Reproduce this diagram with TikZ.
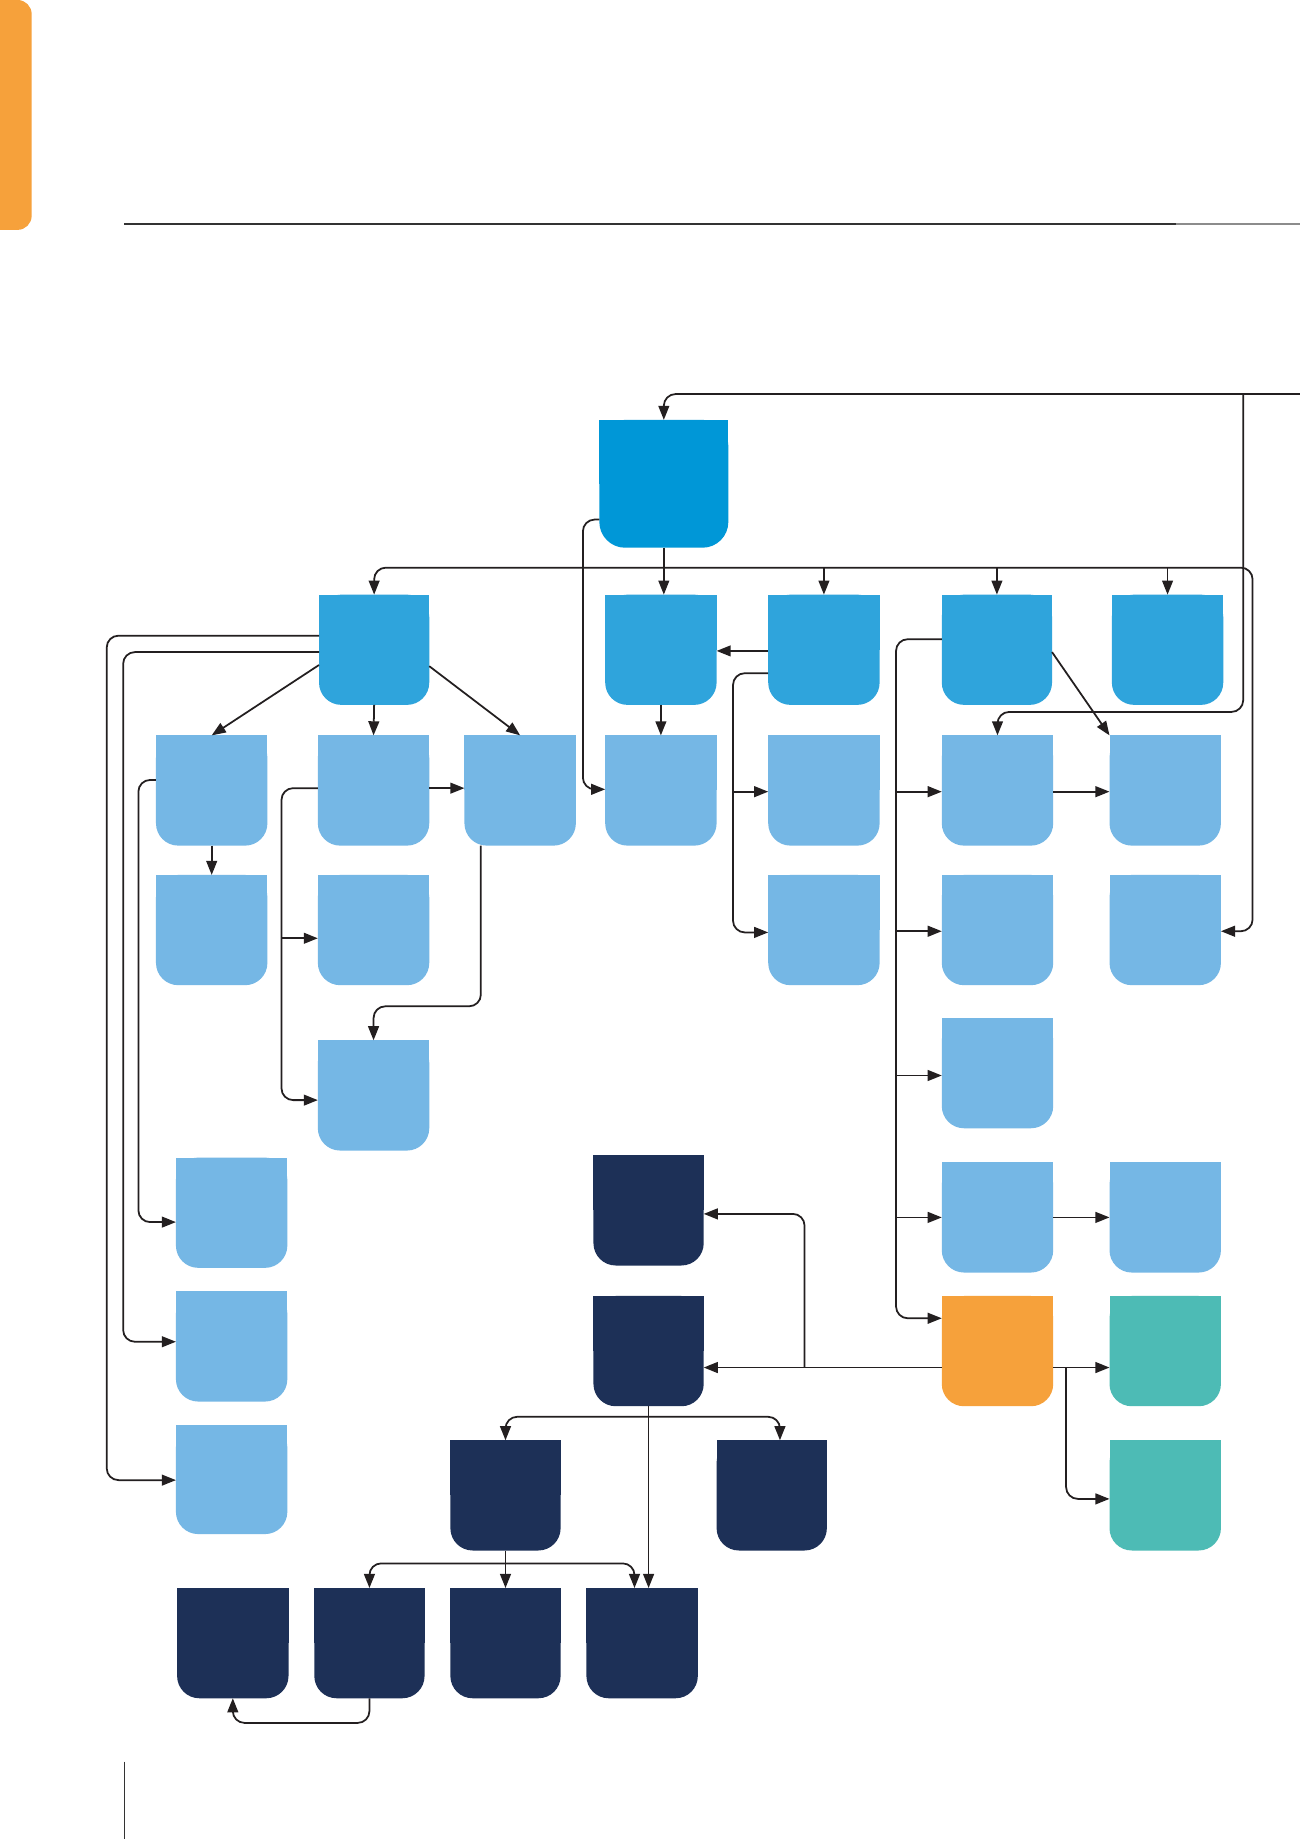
\documentclass[tikz,border=0pt]{standalone}
\usetikzlibrary{arrows.meta,calc}
\definecolor{cT}{HTML}{0097D7}
\definecolor{cM}{HTML}{2FA4DC}
\definecolor{cL}{HTML}{75B7E5}
\definecolor{cN}{HTML}{1D3057}
\definecolor{cO}{HTML}{F6A13B}
\definecolor{cG}{HTML}{4DBBB5}
\definecolor{lc}{HTML}{231F20}
\newcommand\bx[7]{%
  \fill[#6,rounded corners=#7] (#2,#3) rectangle (#4,#5);
  \fill[#6] (#2,#3) rectangle (#4,{(#3+#5)/2});
  \pgfmathsetmacro\bxw{(#4-#2)*0.5}%
  \pgfmathsetmacro\bxh{(#5-#3)*0.5}%
  \node[inner sep=0pt,outer sep=0pt,minimum width=\bxw pt,minimum height=\bxh pt] (#1) at ({(#2+#4)/2},{(#3+#5)/2}) {};
}
\begin{document}
\begin{tikzpicture}[x=0.5pt,y=-0.5pt,
  >={Triangle[length=6pt,width=4.6pt]},
  conn/.style={draw=lc,line width=0.75pt,rounded corners=5pt}]
\useasboundingbox (0,0) rectangle (1108,1568);
\fill[white] (0,0) rectangle (1108,1568);
% page decorations
\fill[cO,rounded corners=6pt] (-40,0) rectangle (27,196);
\draw[line width=1pt,color=black!80] (106,191) -- (1003,191);
\draw[line width=1pt,color=black!45] (1003,191) -- (1108,191);
\draw[line width=0.5pt,color=black!80] (106,1502) -- (106,1568);
% boxes
\bx{T}{511}{358}{621}{467}{cT}{11pt}
\bx{A}{272}{507}{366}{601}{cM}{9.5pt}
\bx{B}{516}{507}{611}{601}{cM}{9.5pt}
\bx{C}{655}{507}{750}{601}{cM}{9.5pt}
\bx{D}{803}{507}{897}{601}{cM}{9.5pt}
\bx{E}{948}{507}{1043}{601}{cM}{9.5pt}
\bx{A1}{133}{627}{228}{721}{cL}{9.5pt}
\bx{A2}{271}{627}{366}{721}{cL}{9.5pt}
\bx{A3}{396}{627}{491}{721}{cL}{9.5pt}
\bx{B1}{516}{627}{611}{721}{cL}{9.5pt}
\bx{C1}{655}{627}{750}{721}{cL}{9.5pt}
\bx{D1}{803}{627}{898}{721}{cL}{9.5pt}
\bx{E1}{946}{627}{1041}{721}{cL}{9.5pt}
\bx{F1}{133}{746}{228}{840}{cL}{9.5pt}
\bx{F2}{271}{746}{366}{840}{cL}{9.5pt}
\bx{C2}{655}{746}{750}{840}{cL}{9.5pt}
\bx{D2}{803}{746}{898}{840}{cL}{9.5pt}
\bx{E2}{946}{746}{1041}{840}{cL}{9.5pt}
\bx{A4}{271}{887}{366}{981}{cL}{9.5pt}
\bx{D3}{803}{868}{898}{962}{cL}{9.5pt}
\bx{L1}{150}{987}{245}{1081}{cL}{9.5pt}
\bx{N1}{506}{985}{600}{1079}{cN}{9.5pt}
\bx{D4}{803}{991}{898}{1085}{cL}{9.5pt}
\bx{E4}{946}{991}{1041}{1085}{cL}{9.5pt}
\bx{L2}{150}{1101}{245}{1195}{cL}{9.5pt}
\bx{N2}{506}{1105}{600}{1199}{cN}{9.5pt}
\bx{O}{803}{1105}{898}{1199}{cO}{9.5pt}
\bx{G1}{946}{1105}{1041}{1199}{cG}{9.5pt}
\bx{L3}{150}{1215}{245}{1308}{cL}{9.5pt}
\bx{N3}{384}{1228}{478}{1322}{cN}{9.5pt}
\bx{N4}{611}{1228}{705}{1322}{cN}{9.5pt}
\bx{G2}{946}{1228}{1041}{1322}{cG}{9.5pt}
\bx{N5}{151}{1354}{246}{1448}{cN}{9.5pt}
\bx{N6}{268}{1354}{362}{1448}{cN}{9.5pt}
\bx{N7}{384}{1354}{478}{1448}{cN}{9.5pt}
\bx{N8}{500}{1354}{595}{1448}{cN}{9.5pt}
% free ends / junctions
\coordinate (edgeR) at (1112,336);
\coordinate (jR) at (1060,336);
% top loop
\draw[conn,->] (edgeR) -- (T.north |- 0,336) -- (T.north);
\draw[conn,->] (jR) -- (1060,607) -- (D1.north |- 0,607) -- (D1.north);
% T to row 1
\draw[conn,->] (T.south) -- (T.south |- B.north);
\draw[conn,<->] (A.north) -- (A.north |- 0,484) -- (1068,484) -- (1068,794) -- (E2.east |- 0,794);
\draw[conn,->] (C.north |- 0,484) -- (C.north);
\draw[conn,->] (D.north |- 0,484) -- (D.north);
\draw[conn,->] (E.north |- 0,484) -- (E.north);
\draw[conn,->] (T.west |- 0,443) -- (497,443) -- (497,673) -- (B1.west |- 0,673);
% A branch
\draw[conn,->] (A.west |- 0,567) -- (A1.north);
\draw[conn,->] (A.south) -- (A2.north);
\draw[conn,->] (A.east |- 0,568) -- (A3.north);
\draw[conn,->] (A.west |- 0,542) -- (91,542) -- (91,1262) -- (L3.west |- 0,1262);
\draw[conn,->] (A.west |- 0,556) -- (105,556) -- (105,1144) -- (L2.west |- 0,1144);
\draw[conn,->] (A1.west |- 0,665) -- (118,665) -- (118,1042) -- (L1.west |- 0,1042);
\draw[conn,->] (A1.south) -- (F1.north);
\draw[conn,->] (A2.east |- 0,672) -- (A3.west |- 0,672);
\draw[conn,->] (A2.west |- 0,672) -- (240,672) -- (240,938) -- (A4.west |- 0,938);
\draw[conn,->] (240,800) -- (F2.west |- 0,800);
\draw[conn,->] (A3.south -| 410,0) -- (410,858) -- (A4.north |- 0,858) -- (A4.north);
% B, C branch
\draw[conn,->] (C.west |- 0,555) -- (B.east |- 0,555);
\draw[conn,->] (B.south) -- (B1.north);
\draw[conn,->] (C.west |- 0,574) -- (625,574) -- (625,795) -- (C2.west |- 0,795);
\draw[conn,->] (625,675) -- (C1.west |- 0,675);
% D branch
\draw[conn,->] (D.west |- 0,545) -- (764,545) -- (764,1124) -- (O.west |- 0,1124);
\draw[conn,->] (764,675) -- (D1.west |- 0,675);
\draw[conn,->] (764,794) -- (D2.west |- 0,794);
\draw[conn,->] (764,917) -- (D3.west |- 0,917);
\draw[conn,->] (764,1038) -- (D4.west |- 0,1038);
\draw[conn,->] (D.east |- 0,556) -- (E1.north west);
\draw[conn,->] (D1.east |- 0,675) -- (E1.west |- 0,675);
\draw[conn,->] (D4.east |- 0,1038) -- (E4.west |- 0,1038);
% orange box
\draw[conn,->] (O.west |- 0,1166) -- (N2.east |- 0,1166);
\draw[conn,->] (686,1166) -- (686,1035) -- (N1.east |- 0,1035);
\draw[conn,->] (O.east |- 0,1166) -- (G1.west |- 0,1166);
\draw[conn,->] (909,1166) -- (909,1278) -- (G2.west |- 0,1278);
% navy tree
\draw[conn,->] (N2.south) -- (N2.south |- N8.north);
\draw[conn,<->] (N3.north) -- (N3.north |- 0,1208) -- (665,1208) -- (N4.north -| 665,0);
\draw[conn,->] (N3.south) -- (N7.north);
\draw[conn,<->] (N6.north) -- (N6.north |- 0,1333) -- (541,1333) -- (N8.north -| 541,0);
\draw[conn,->] (N6.south) -- (N6.south |- 0,1469) -- (N5.south |- 0,1469) -- (N5.south);
\end{tikzpicture}
\end{document}
